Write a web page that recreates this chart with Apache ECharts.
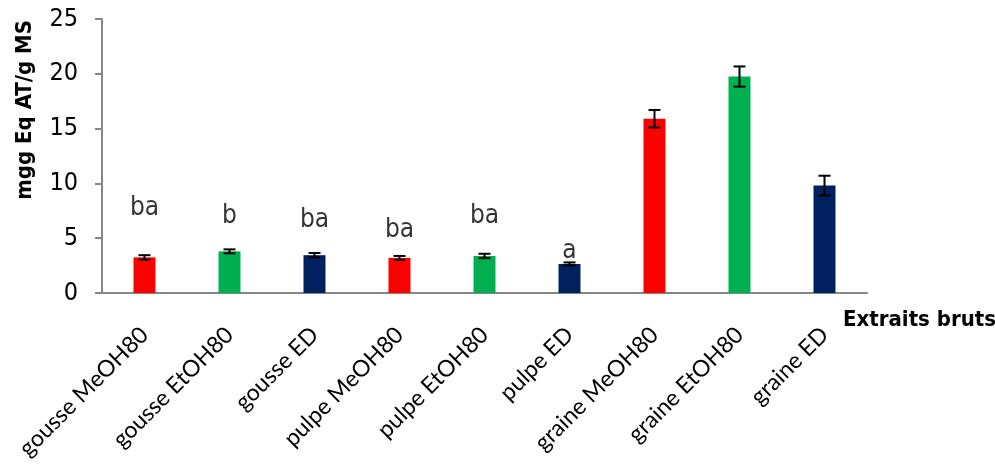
<!DOCTYPE html>
<html>
<head>
<meta charset="utf-8">
<script src="https://cdn.jsdelivr.net/npm/echarts@6/dist/echarts.min.js"></script>
<style>html,body{margin:0;padding:0;background:#fff;}#c{width:995px;height:464px;}</style>
</head>
<body>
<div id="c"></div>
<script>
const categories = ['gousse MeOH80','gousse EtOH80','gousse ED','pulpe MeOH80','pulpe EtOH80','pulpe ED','graine MeOH80','graine EtOH80','graine ED'];
const values = [3.25, 3.8, 3.45, 3.2, 3.38, 2.65, 15.9, 19.75, 9.8];
const errors = [0.2, 0.18, 0.2, 0.18, 0.2, 0.14, 0.8, 0.92, 0.9];
const letters = ['ba','b','ba','ba','ba','a','','',''];
const letterY = [7.77, 7.04, 6.67, 5.76, 7.04, 3.84, null, null, null];
const barColors = ['#FF0000','#00B050','#002060','#FF0000','#00B050','#002060','#FF0000','#00B050','#002060'];
const yTicks = [0, 5, 10, 15, 20, 25];

const chart = echarts.init(document.getElementById('c'), null, {renderer:'canvas'});
const numFont = '"Liberation Sans Narrow", "DejaVu Sans Condensed", sans-serif';
chart.setOption({
  animation: false,
  backgroundColor: '#fff',
  grid: {left: 102, right: 128, top: 19, bottom: 171, containLabel: false},
  xAxis: {
    type: 'category',
    data: categories,
    axisLine: {lineStyle: {color: '#868686', width: 2}},
    axisTick: {show: false},
    axisLabel: {rotate: 45, interval: 0, margin: 38, fontFamily: 'Lato, "Open Sans", sans-serif', fontSize: 23, color: '#000'}
  },
  yAxis: {
    type: 'value',
    min: yTicks[0], max: yTicks[yTicks.length-1], interval: 5,
    splitLine: {show: false},
    axisLine: {show: true, lineStyle: {color: '#868686', width: 2}},
    axisTick: {show: true, length: 7, lineStyle: {color: '#868686', width: 2}},
    axisLabel: {fontFamily: numFont, fontSize: 25, color: '#000', margin: 24}
  },
  graphic: [
    {type: 'text', left: 14, top: 20, rotation: Math.PI/2, originX: 0, originY: 0,
     style: {text: 'mgg Eq AT/g MS', font: 'bold 22px ' + numFont, fill: '#000'}},
    {type: 'text', left: 843, top: 309,
     style: {text: 'Extraits bruts', font: 'bold 22px ' + numFont, fill: '#000'}}
  ],
  series: [
    {
      type: 'bar',
      barWidth: 22,
      data: values.map((v, i) => ({value: v, itemStyle: {color: barColors[i]}}))
    },
    {
      type: 'custom',
      z: 5,
      renderItem: function (params, api) {
        const i = api.value(0), v = api.value(1), e = api.value(2);
        const hi = api.coord([i, v + e]);
        const lo = api.coord([i, v - e]);
        const hw = 6;
        const st = {stroke: '#000', lineWidth: 2};
        return {type: 'group', children: [
          {type: 'line', shape: {x1: hi[0], y1: hi[1], x2: lo[0], y2: lo[1]}, style: st},
          {type: 'line', shape: {x1: hi[0]-hw, y1: hi[1], x2: hi[0]+hw, y2: hi[1]}, style: st},
          {type: 'line', shape: {x1: lo[0]-hw, y1: lo[1], x2: lo[0]+hw, y2: lo[1]}, style: st}
        ]};
      },
      data: values.map((v, i) => [i, v, errors[i]])
    },
    {
      type: 'scatter',
      symbolSize: 0,
      z: 6,
      label: {show: true, position: 'inside', formatter: p => letters[p.dataIndex], fontFamily: numFont, fontSize: 26, color: '#000'},
      data: letterY.map((y, i) => y === null ? [i, null] : [i, y])
    }
  ]
});
</script>
</body>
</html>
